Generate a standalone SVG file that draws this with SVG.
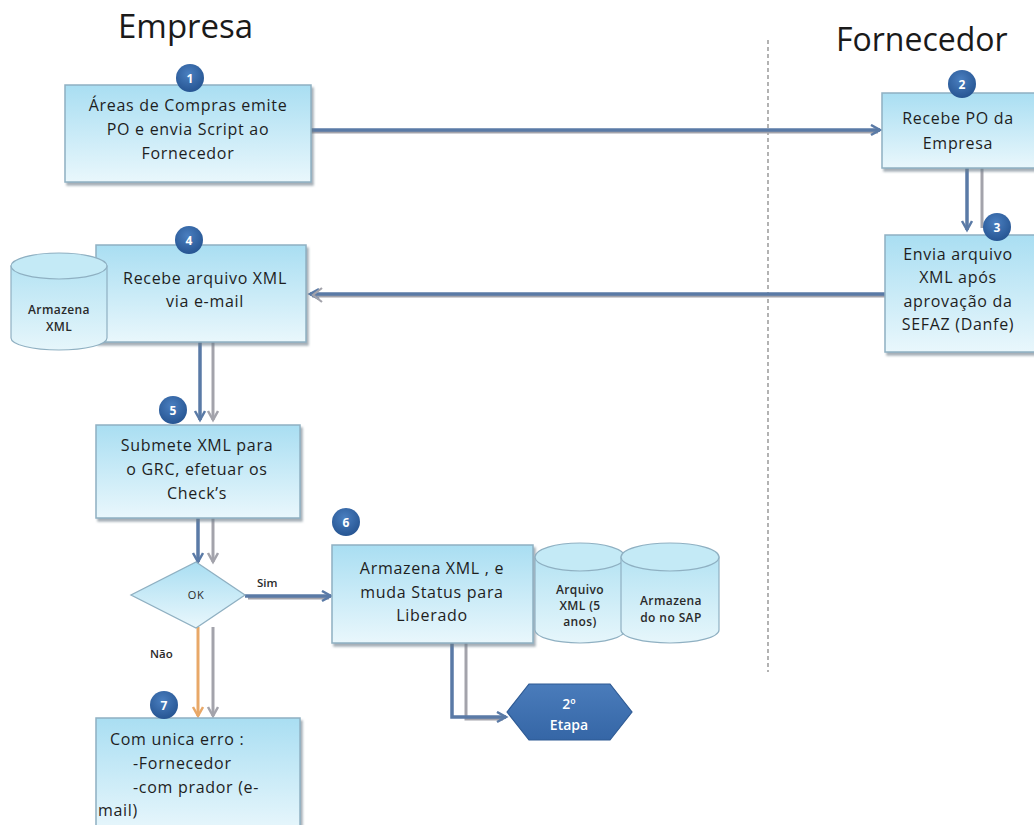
<svg xmlns="http://www.w3.org/2000/svg" width="1034" height="825" viewBox="0 0 1034 825">
<defs>
<linearGradient id="boxg" x1="0" y1="0" x2="0" y2="1">
<stop offset="0" stop-color="#a9def2"/>
<stop offset="1" stop-color="#e9f7fc"/>
</linearGradient>
<linearGradient id="cylg" x1="0" y1="0" x2="0" y2="1">
<stop offset="0" stop-color="#b5e3f3"/>
<stop offset="1" stop-color="#e6f6fb"/>
</linearGradient>
<radialGradient id="badgeg" cx="0.45" cy="0.35" r="0.7">
<stop offset="0" stop-color="#4a7fc0"/>
<stop offset="1" stop-color="#24528f"/>
</radialGradient>
<linearGradient id="hexg" x1="0" y1="0" x2="0" y2="1">
<stop offset="0" stop-color="#4a7cbb"/>
<stop offset="1" stop-color="#3566a6"/>
</linearGradient>
<marker id="ah" markerWidth="14" markerHeight="14" refX="10" refY="6" orient="auto" markerUnits="userSpaceOnUse">
<path d="M1,1 L10,6 L1,11" fill="none" stroke="#5a7aa6" stroke-width="2.5"/>
</marker>
<marker id="ahg" markerWidth="14" markerHeight="14" refX="10" refY="6" orient="auto" markerUnits="userSpaceOnUse">
<path d="M1,1 L10,6 L1,11" fill="none" stroke="#a3a3ab" stroke-width="2.5"/>
</marker>
<marker id="aho" markerWidth="14" markerHeight="14" refX="10" refY="6" orient="auto" markerUnits="userSpaceOnUse">
<path d="M1,1 L10,6 L1,11" fill="none" stroke="#e8a868" stroke-width="2.5"/>
</marker>
<filter id="sh" x="-5%" y="-5%" width="115%" height="120%">
<feDropShadow dx="2" dy="3" stdDeviation="1.2" flood-color="#6a7a86" flood-opacity="0.6"/>
</filter>
</defs>
<style>
.box{fill:url(#boxg);stroke:#8fb0c2;stroke-width:1.5;filter:url(#sh)}
.cyl{fill:url(#cylg);stroke:#8fb0c2;stroke-width:1.2}
.cyltop{fill:#c4eaf6;stroke:#8fb0c2;stroke-width:1.2}
.t{font-family:"Open Sans","Noto Sans",sans-serif;font-size:16px;letter-spacing:0.7px;fill:#1e1e1e;text-anchor:middle}
.tl{font-family:"Open Sans","Noto Sans",sans-serif;font-size:16px;letter-spacing:0.7px;fill:#1e1e1e;text-anchor:start}
.ts{font-family:"Open Sans","Noto Sans",sans-serif;font-size:12px;letter-spacing:0.4px;font-weight:600;fill:#2a2a2a;text-anchor:middle}
.tok{font-family:"Open Sans","Noto Sans",sans-serif;font-size:11px;letter-spacing:0.5px;fill:#2a2a2a;text-anchor:middle}
.hd{font-family:"Open Sans","Noto Sans",sans-serif;fill:#1a1a1a}
.badge{fill:url(#badgeg)}
.bn{font-family:"Open Sans","Noto Sans",sans-serif;font-size:12px;font-weight:bold;fill:#ffffff;text-anchor:middle}
.he{font-family:"Open Sans","Noto Sans",sans-serif;font-size:14px;font-weight:600;fill:#ffffff;text-anchor:middle}
.cd{fill:none;stroke:#5a7aa6;stroke-width:3.5}
.cg{fill:none;stroke:#a3a3ab;stroke-width:3}
.co{fill:none;stroke:#e8a868;stroke-width:3}
.lab{font-family:"Open Sans","Noto Sans",sans-serif;font-size:11.5px;font-weight:600;fill:#2a2a2a}
</style>
<rect width="1034" height="825" fill="#ffffff"/>

<text class="hd" x="118" y="38" font-size="33">Empresa</text>
<text class="hd" x="836" y="51" font-size="32">Fornecedor</text>
<line x1="768" y1="40" x2="768" y2="672" stroke="#8a8a8a" stroke-width="1.3" stroke-dasharray="4,3"/>

<g id="connectors">
<line class="cg" x1="311" y1="132" x2="878" y2="132"/>
<line class="cd" x1="311" y1="130" x2="880" y2="130" marker-end="url(#ah)"/>
<line class="cg" x1="982" y1="168" x2="982" y2="228"/>
<line class="cd" x1="967" y1="168" x2="967" y2="230" marker-end="url(#ah)"/>
<line class="cg" x1="885" y1="296" x2="312" y2="296"/>
<line class="cd" x1="885" y1="294" x2="310" y2="294" marker-end="url(#ah)"/>
<path d="M322,288 L313,295 L322,302" fill="none" stroke="#a3a3ab" stroke-width="2.2"/>
<line class="cd" x1="200" y1="342" x2="200" y2="420" marker-end="url(#ah)"/>
<line class="cg" x1="213" y1="342" x2="213" y2="420" marker-end="url(#ahg)"/>
<line class="cd" x1="198" y1="518" x2="198" y2="562" marker-end="url(#ah)"/>
<line class="cg" x1="213" y1="518" x2="213" y2="562" marker-end="url(#ahg)"/>
<line class="cg" x1="248" y1="598" x2="329" y2="598"/>
<line class="cd" x1="245" y1="596" x2="331" y2="596" marker-end="url(#ah)"/>
<text class="lab" x="257" y="587">Sim</text>
<line class="co" x1="198" y1="627" x2="198" y2="716" marker-end="url(#aho)"/>
<line class="cg" x1="213" y1="627" x2="213" y2="716" marker-end="url(#ahg)"/>
<text class="lab" x="150" y="658">Não</text>
<path class="cg" d="M466,643 L466,719 L503,719"/>
<path class="cd" d="M452,643 L452,717 L506,717" marker-end="url(#ah)"/>
</g>

<g id="node1">
<rect class="box" x="65" y="85" width="246" height="97"/>
<circle class="badge" cx="190" cy="78" r="14"/>
<text class="bn" x="190" y="83">1</text>
<text class="t" x="188" y="111">Áreas de Compras emite</text>
<text class="t" x="188" y="135">PO e envia Script ao</text>
<text class="t" x="188" y="159">Fornecedor</text>
</g>

<g id="node2">
<rect class="box" x="882" y="93" width="153" height="75"/>
<circle class="badge" cx="962" cy="84" r="14"/>
<text class="bn" x="962" y="89">2</text>
<text class="t" x="958" y="124">Recebe PO da</text>
<text class="t" x="958" y="149">Empresa</text>
</g>

<g id="node3">
<rect class="box" x="885" y="235" width="150" height="117"/>
<circle class="badge" cx="997" cy="227" r="14"/>
<text class="bn" x="997" y="232">3</text>
<text class="t" x="958" y="260">Envia arquivo</text>
<text class="t" x="958" y="283">XML após</text>
<text class="t" x="958" y="307">aprovação da</text>
<text class="t" x="958" y="330">SEFAZ (Danfe)</text>
</g>

<g id="node4">
<rect class="box" x="96" y="245" width="210" height="97"/>
<circle class="badge" cx="189" cy="240" r="14"/>
<text class="bn" x="189" y="245">4</text>
<text class="t" x="205" y="284">Recebe arquivo XML</text>
<text class="t" x="205" y="307">via e-mail</text>
</g>

<g id="store1">
<path class="cyl" d="M11,266 L11,338 A48,12 0 0 0 107,338 L107,266 Z"/>
<ellipse class="cyltop" cx="59" cy="266" rx="48" ry="13"/>
<text class="ts" x="59" y="314">Armazena</text>
<text class="ts" x="59" y="331">XML</text>
</g>

<g id="node5">
<rect class="box" x="96" y="425" width="204" height="93"/>
<circle class="badge" cx="173" cy="410" r="14"/>
<text class="bn" x="173" y="415">5</text>
<text class="t" x="197" y="451">Submete XML para</text>
<text class="t" x="197" y="475">o GRC, efetuar os</text>
<text class="t" x="197" y="499">Check’s</text>
</g>

<g id="decision">
<path d="M196,562 L245,595 L196,628 L131,595 Z" fill="url(#boxg)" stroke="#8fb0c2" stroke-width="1.3"/>
<text class="tok" x="196" y="599">OK</text>
</g>

<g id="node6">
<rect class="box" x="332" y="545" width="201" height="98"/>
<circle class="badge" cx="346" cy="522" r="14"/>
<text class="bn" x="346" y="527">6</text>
<text class="t" x="432" y="574">Armazena  XML , e</text>
<text class="t" x="432" y="598">muda Status para</text>
<text class="t" x="432" y="621">Liberado</text>
</g>

<g id="store2">
<path class="cyl" d="M535,557 L535,630 A45,13 0 0 0 625,630 L625,557 Z"/>
<ellipse class="cyltop" cx="580" cy="557" rx="45" ry="14"/>
<text class="ts" x="580" y="594">Arquivo</text>
<text class="ts" x="580" y="610">XML (5</text>
<text class="ts" x="580" y="626">anos)</text>
</g>

<g id="store3">
<path class="cyl" d="M621,557 L621,630 A49,13 0 0 0 719,630 L719,557 Z"/>
<ellipse class="cyltop" cx="670" cy="557" rx="49" ry="14"/>
<text class="ts" x="671" y="605">Armazena</text>
<text class="ts" x="671" y="622">do no SAP</text>
</g>

<g id="etapa2">
<path d="M507,712 L529,684 L610,684 L632,712 L610,740 L529,740 Z" fill="url(#hexg)" stroke="#2e5a94" stroke-width="1.2"/>
<text class="he" x="569" y="709">2º</text>
<text class="he" x="569" y="730">Etapa</text>
</g>

<g id="node7">
<rect class="box" x="96" y="718" width="204" height="115"/>
<circle class="badge" cx="164" cy="705" r="14"/>
<text class="bn" x="164" y="710">7</text>
<text class="tl" x="110" y="745">Com unica erro :</text>
<text class="tl" x="133" y="769">-Fornecedor</text>
<text class="tl" x="133" y="793">-com prador (e-</text>
<text class="tl" x="98" y="816">mail)</text>
</g>
</svg>
